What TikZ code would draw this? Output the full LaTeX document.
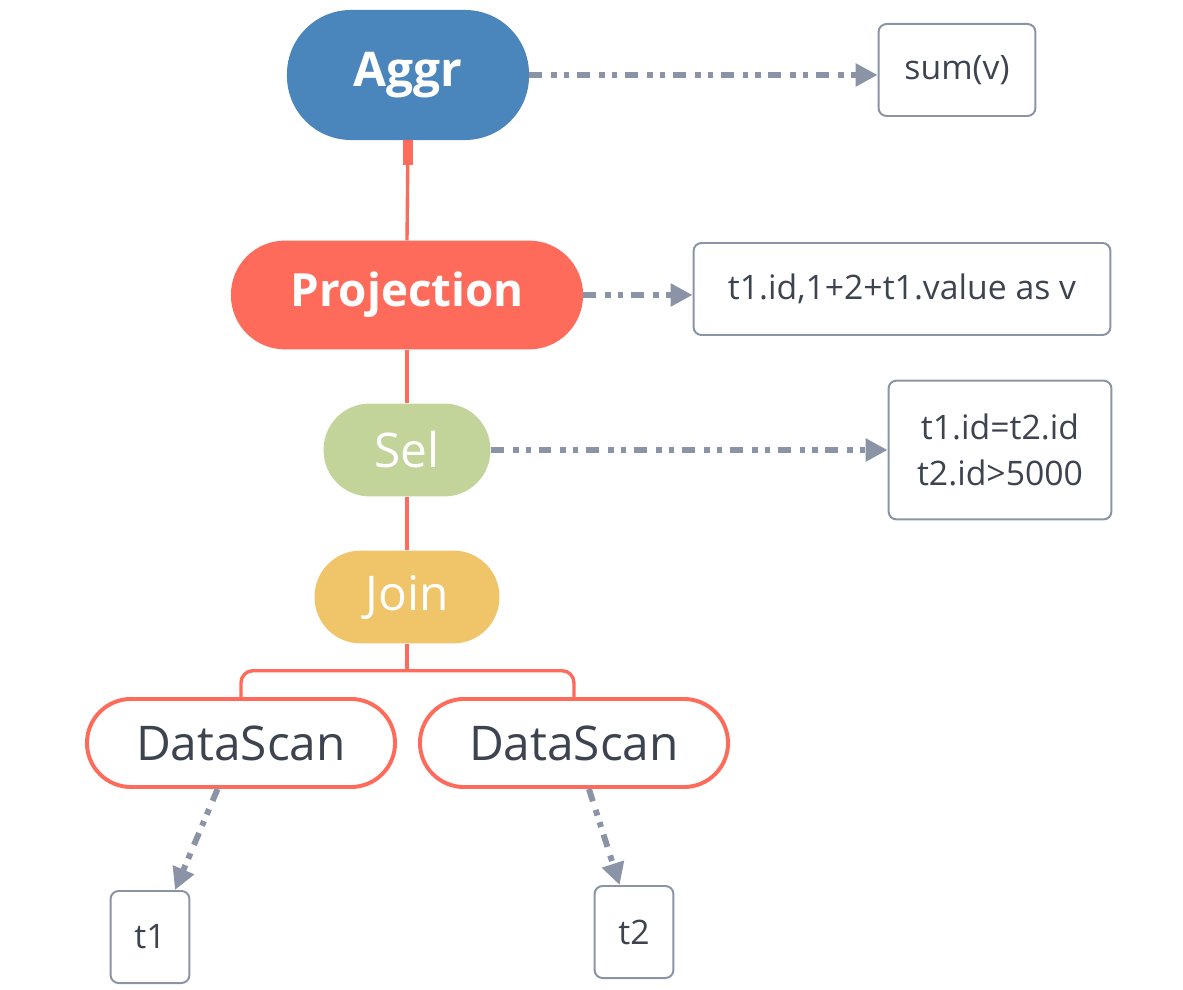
\documentclass[tikz,border=0pt]{standalone}
\usepackage{fontspec}
\setmainfont{Open Sans}
\usetikzlibrary{arrows.meta}

\definecolor{aggrblue}{HTML}{4A85BC}
\definecolor{coral}{HTML}{FF6B5A}
\definecolor{selgreen}{HTML}{C2D49A}
\definecolor{joinyellow}{HTML}{F0C468}
\definecolor{slate}{HTML}{8A94A6}
\definecolor{ink}{HTML}{3D4450}

\begin{document}
\begin{tikzpicture}[x=0.025cm, y=-0.025cm,
    op/.style={inner sep=0pt, text=white, font=\fontsize{34}{40}\selectfont},
    scan/.style={op, draw=coral, line width=2.8pt, fill=white, text=ink,
        minimum width=7.7cm, minimum height=2.2cm, rounded corners=1.1cm},
    note/.style={draw=slate, line width=1.4pt, rounded corners=0.2cm, text=ink,
        minimum height=2.3cm, align=center, font=\fontsize{24}{33}\selectfont},
    link/.style={coral, line width=2.4pt},
    detail/.style={slate, line width=4.2pt,
        dash pattern=on 9.2pt off 6.4pt on 4.2pt off 5pt on 3.6pt off 5.6pt,
        -{Triangle[length=0.55cm, width=0.55cm]}}]
    \useasboundingbox (0,0) rectangle (1183,990);

    % Operators
    \node[op, fill=aggrblue, minimum width=6.05cm, minimum height=3.25cm, rounded corners=1.6cm,
        font=\fontsize{34}{40}\selectfont\bfseries] (aggr) at (408,75) {Aggr};
    \node[op, fill=coral, minimum width=8.8cm, minimum height=2.72cm, rounded corners=1.35cm,
        font=\fontsize{32.5}{38}\selectfont\bfseries] (proj) at (407,295) {Projection};
    \node[op, fill=selgreen, minimum width=4.17cm, minimum height=2.32cm, rounded corners=1.15cm] (sel) at (407,450) {Sel};
    \node[op, fill=joinyellow, minimum width=4.62cm, minimum height=2.32cm, rounded corners=1.15cm] (join) at (407,597) {Join};
    \node[scan] (scan1) at (241,743) {DataScan};
    \node[scan] (scan2) at (574,743) {DataScan};

    % Details
    \node[note, minimum width=3.92cm] (sumv) at (957,70) {sum(v)};
    \node[note, minimum width=10.42cm] (projlist) at (902,289) {t1.id,1+2+t1.value as v};
    \node[note, minimum width=5.57cm, minimum height=3.47cm] (cond) at (1000,450) {t1.id=t2.id\\t2.id>5000};
    \node[note, minimum width=1.97cm] (tab1) at (150,937) {t1};
    \node[note, minimum width=1.97cm] (tab2) at (634,932) {t2};

    % Plan edges
    \draw[link] (aggr.south) -- (proj.north);
    \draw[coral, line width=0.25cm] (aggr.south) -- ++(0,25);
    \draw[link] (proj.south) -- (sel.north);
    \draw[link] (sel.south) -- (join.north);
    \draw[link] (join.south) -- ++(0,27) coordinate (split);
    \draw[link, rounded corners=0.3cm] (scan1.north) |- (split) -| (scan2.north);

    % Detail arrows
    \draw[detail] (aggr.east) -- (aggr.east -| sumv.west);
    \draw[detail] (proj.east) -- (proj.east -| projlist.west);
    \draw[detail] (sel.east) -- (cond.west);
    \draw[detail] (scan1.243) -- (tab1.62);
    \draw[detail] (scan2.288) -- (tab2.107);
\end{tikzpicture}
\end{document}
